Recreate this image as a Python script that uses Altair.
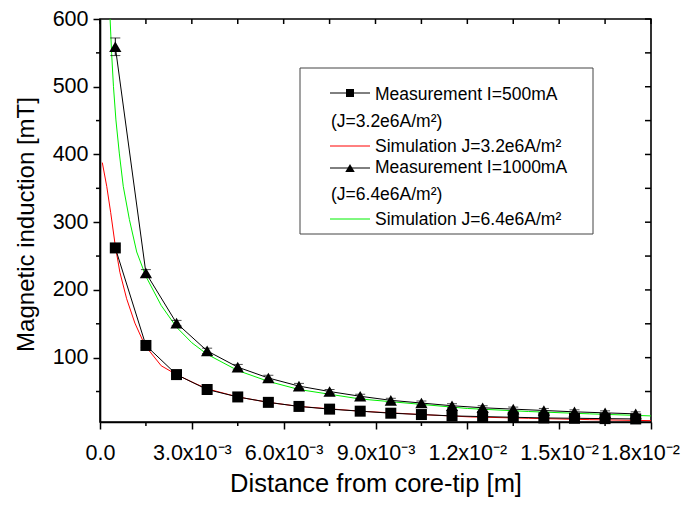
import altair as alt
import pandas as pd

# ---------------- data (x in metres, B in mT) ----------------
meas_x = [0.0005, 0.0015, 0.0025, 0.0035, 0.0045, 0.0055, 0.0065, 0.0075, 0.0085,
          0.0095, 0.0105, 0.0115, 0.0125, 0.0135, 0.0145, 0.0155, 0.0165, 0.0175]
meas500 = [262, 118, 75, 53, 42, 34, 28, 24, 21, 18, 16, 14, 13, 12, 11, 10.5, 10, 9.5]
err500 = [3, 3, 2, 2, 2, 2, 2, 1.5, 1.5, 1.5, 1.5, 1.5, 1, 1, 1, 1, 1, 1]
meas1000 = [559, 225, 151, 110, 86, 70, 58, 50, 43, 37, 33, 29, 26, 24, 22, 20, 18.5, 17]
err1000 = [13, 5, 4, 4, 4, 4, 4, 3, 3, 3, 3, 3, 3, 3, 3, 3, 3, 3]

sim32_x = [0.000075, 0.00022, 0.00035, 0.0005, 0.00065, 0.00087, 0.00114, 0.00147, 0.002,
           0.0025, 0.0031, 0.0035, 0.0045, 0.0055, 0.0065, 0.0085, 0.0105, 0.0121, 0.014,
           0.016, 0.018]
sim32_y = [388, 353, 314, 265, 226, 187, 151, 118, 88, 75, 62, 54, 42, 34, 28, 21, 16, 12.5,
           10.5, 8.5, 7]

sim64_x = [0.00033, 0.00038, 0.00044, 0.00052, 0.00063, 0.00076, 0.00096, 0.0012, 0.0015,
           0.002, 0.0025, 0.003, 0.0035, 0.0045, 0.0055, 0.0065, 0.0085, 0.0105, 0.012,
           0.014, 0.016, 0.018]
sim64_y = [600, 549, 500, 451, 402, 353, 304, 256, 220, 177, 145, 122, 105, 81, 65, 53, 39,
           31, 25, 20.5, 17, 14]

x_major = [0, 0.003, 0.006, 0.009, 0.012, 0.015, 0.018]
x_labels = ["0.0", "3.0x10⁻³", "6.0x10⁻³", "9.0x10⁻³", "1.2x10⁻²", "1.5x10⁻²", "1.8x10⁻²"]
x_minor = [0.0015, 0.0045, 0.0075, 0.0105, 0.0135, 0.0165]
y_major = [100, 200, 300, 400, 500, 600]
y_minor = [50, 150, 250, 350, 450, 550]

legend_texts = ["Measurement I=500mA", "(J=3.2e6A/m²)", "Simulation J=3.2e6A/m²",
                "Measurement I=1000mA", "(J=6.4e6A/m²)", "Simulation J=6.4e6A/m²"]

X_DOMAIN = [0, 0.018]
Y_DOMAIN = [5, 600]
W, H = 551, 403
FONT = "Liberation Sans"

# ---------------- tables ----------------
m500 = pd.DataFrame({"x": meas_x, "y": meas500,
                     "lo": [v - e for v, e in zip(meas500, err500)],
                     "hi": [v + e for v, e in zip(meas500, err500)]})
m1000 = pd.DataFrame({"x": meas_x, "y": meas1000,
                      "lo": [v - e for v, e in zip(meas1000, err1000)],
                      "hi": [v + e for v, e in zip(meas1000, err1000)]})
s32 = pd.DataFrame({"x": sim32_x, "y": sim32_y})
s64 = pd.DataFrame({"x": sim64_x, "y": sim64_y})

label_expr = " : ".join(
    f"abs(datum.value - {v}) < 1e-7 ? '{t}'" for v, t in zip(x_major, x_labels)
) + " : ''"

xs = alt.Scale(domain=X_DOMAIN, nice=False, zero=False)
ys = alt.Scale(domain=Y_DOMAIN, nice=False, zero=False)

x_axis = alt.Axis(values=x_major, labelExpr=label_expr, grid=False, tickSize=7,
                  tickWidth=1.5, tickColor="black", domainColor="black", domainWidth=1.6,
                  labelFont=FONT, labelFontSize=21.5, labelColor="black", labelPadding=13,
                  labelFlush=False, labelOverlap=False,
                  labelOffset={"condition": {"test": "datum.value > 0.017", "value": -11},
                               "value": 0},
                  title="Distance from core-tip [m]", titleFont=FONT, titleFontSize=25.5,
                  titleFontWeight="normal", titleColor="black",
                  titleBaseline="alphabetic", titleY=69)
y_axis = alt.Axis(values=y_major, grid=False, tickSize=7, tickWidth=1.5, tickColor="black",
                  domainColor="black", domainWidth=1.6, labelFont=FONT, labelFontSize=21.5,
                  labelColor="black", labelPadding=5, labelFlush=False,
                  title="Magnetic induction [mT]", titleFont=FONT, titleFontSize=24,
                  titleFontWeight="normal", titleColor="black",
                  titleBaseline="alphabetic", titleX=-67, titleY=205)

X = alt.X("x:Q", scale=xs, axis=x_axis)
Y = alt.Y("y:Q", scale=ys, axis=y_axis)


def xq(field="x"):
    return alt.X(f"{field}:Q", scale=xs)


def yq(field="y"):
    return alt.Y(f"{field}:Q", scale=ys)


base_axes = alt.Chart(s32).mark_line(color="#ff0000", strokeWidth=1, clip=True).encode(
    x=X, y=Y)
green = alt.Chart(s64).mark_line(color="#00f000", strokeWidth=1, clip=True).encode(
    x=xq(), y=yq())

layers = [base_axes, green]
for df, shape, size in [(m500, "square", 121), (m1000, "triangle-up", 150)]:
    layers.append(alt.Chart(df).mark_line(color="black", strokeWidth=1).encode(
        x=xq(), y=yq()))
    layers.append(alt.Chart(df).mark_rule(color="black", strokeWidth=1).encode(
        x=xq(), y=yq("lo"), y2="hi:Q"))
    for f in ["lo", "hi"]:
        layers.append(alt.Chart(df).mark_tick(color="black", orient="horizontal",
                                              size=10, thickness=1).encode(
            x=xq(), y=yq(f)))
    layers.append(alt.Chart(df).mark_point(shape=shape, size=size, filled=True,
                                           color="black", opacity=1).encode(
        x=xq(), y=yq()))

# ---------------- minor / mirrored ticks ----------------
tx_minor = pd.DataFrame({"x": x_minor})
ty_minor = pd.DataFrame({"y": y_minor})
tx_all = pd.DataFrame({"x": sorted(x_major + x_minor)})
ty_all = pd.DataFrame({"y": sorted(y_major + y_minor)})
tick_style = dict(color="black", strokeWidth=1.5)
layers += [
    alt.Chart(tx_minor).mark_rule(**tick_style).encode(
        x=xq(), y=alt.value(H), y2=alt.value(H + 4)),
    alt.Chart(ty_minor).mark_rule(**tick_style).encode(
        y=yq(), x=alt.value(0), x2=alt.value(-4)),
    alt.Chart(tx_all).mark_rule(**tick_style).encode(
        x=xq(), y=alt.value(0), y2=alt.value(5)),
    alt.Chart(ty_all).mark_rule(**tick_style).encode(
        y=yq(), x=alt.value(W), x2=alt.value(W - 6)),
]

# ---------------- custom legend ----------------
OX, OY = 100, 19  # plot origin in page pixels (used only for legend placement)
box = alt.Chart(pd.DataFrame({"a": [0]})).mark_rect(
    fill="white", stroke="#444444", strokeWidth=1).encode(
    x=alt.value(300 - OX), x2=alt.value(593 - OX),
    y=alt.value(68 - OY), y2=alt.value(234 - OY))
layers.append(box)

row_base = [100, 127, 152, 173, 200, 225]       # text baselines (page px)
row_mid = [93, 121, 146, 168, 194, 219]         # line centres (page px)
text_x = [375, 331, 375, 375, 331, 375]
for txt, bl, tx in zip(legend_texts, row_base, text_x):
    layers.append(alt.Chart(pd.DataFrame({"t": [txt]})).mark_text(
        align="left", baseline="alphabetic", font=FONT, fontSize=17.5, color="black").encode(
        x=alt.value(tx - OX), y=alt.value(bl - OY), text="t:N"))

for i, col in [(0, "black"), (2, "#ff0000"), (3, "black"), (5, "#00f000")]:
    layers.append(alt.Chart(pd.DataFrame({"a": [0]})).mark_rule(
        color=col, strokeWidth=1).encode(
        x=alt.value(330 - OX), x2=alt.value(370 - OX),
        y=alt.value(row_mid[i] - OY)))
for i, shape, size in [(0, "square", 64), (3, "triangle-up", 90)]:
    layers.append(alt.Chart(pd.DataFrame({"a": [0]})).mark_point(
        shape=shape, size=size, filled=True, color="black", opacity=1).encode(
        x=alt.value(350 - OX), y=alt.value(row_mid[i] - OY)))

chart = alt.layer(*layers).properties(
    width=W, height=H,
    autosize=alt.AutoSizeParams(type="none"),
    padding={"left": 92, "top": 11, "right": 30, "bottom": 75},
    background="white",
).configure_view(stroke="black", strokeWidth=1.6)

chart.save("out.html", embed_options={"renderer": "svg", "actions": False})
